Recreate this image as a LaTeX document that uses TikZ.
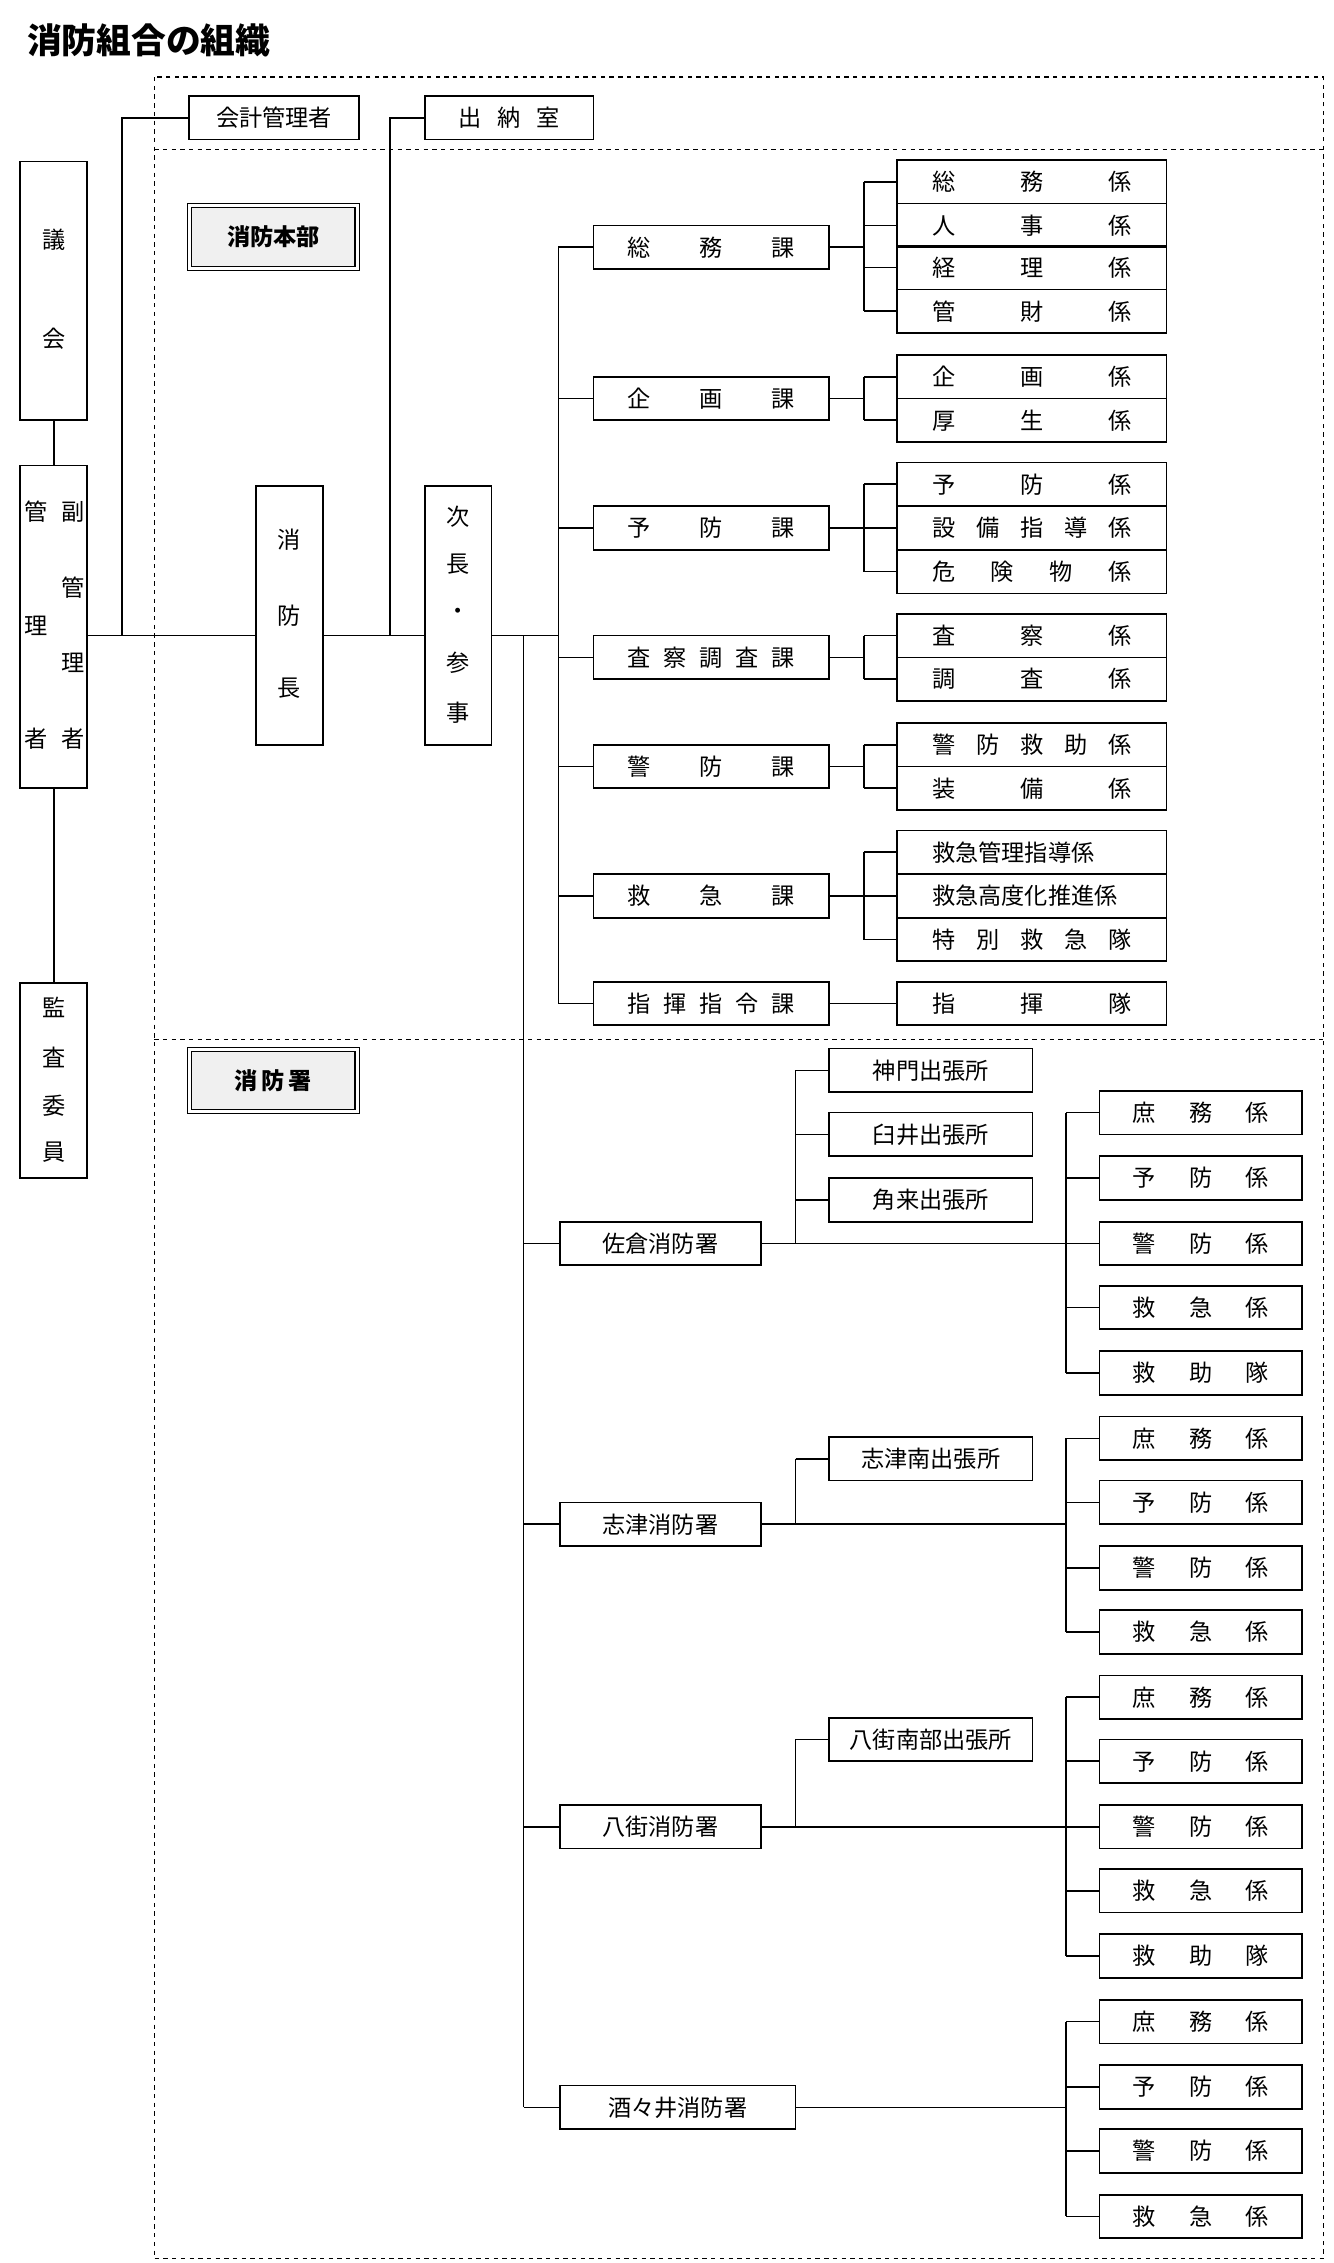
\documentclass[tikz,border=0pt]{standalone}
\usepackage{fontspec}
\setmainfont{Noto Sans CJK JP}
\begin{document}
\begin{tikzpicture}[x=1bp,y=-1bp,line width=1.2bp,
 box/.style={draw,rectangle,inner sep=0pt,font=\fontsize{16}{18}\selectfont},
 ch/.style={inner sep=0pt,font=\fontsize{16}{18}\selectfont},
 dbl/.style={draw,double,double distance=2bp,line width=0.8bp,fill=gray!12,inner sep=0pt,font=\bfseries\fontsize{16}{18}\selectfont},
 dsh/.style={dashed,line width=0.8bp}]
\newcommand\bx[6]{\node[box,minimum width={((#4)-(#2))*1bp},minimum height={((#5)-(#3))*1bp}] (#1) at ({((#2)+(#4))/2},{((#3)+(#5))/2}) {#6};}
\newcommand\ka[3]{\bx{#1}{408}{#2-15}{570}{#2+15}{\makebox[115bp][s]{#3}}}
\newcommand\kk[3]{\bx{#1}{617}{#2-15}{802}{#2+15}{\makebox[137bp][s]{#3}}}
\newcommand\sk[3]{\bx{#1}{756}{#2-15}{895}{#2+15}{\makebox[93bp][s]{#3}}}
\useasboundingbox (0,0) rectangle (917,1556);
\node[anchor=west,inner sep=0pt,font=\bfseries\fontsize{24}{26}\selectfont] (title) at (18,28) {消防組合の組織};
\draw[dsh] (106,53) rectangle (910,1553);
\draw[dsh] (106,103) -- (910,103);
\draw[dsh] (106,715) -- (910,715);
% top boxes
\bx{kaikei}{130}{66}{247}{96}{会計管理者}
\bx{suitou}{292}{66}{408}{96}{\makebox[70bp][s]{出\hfill 納\hfill 室}}
\node[dbl,minimum width=115bp,minimum height=43bp] (honbu) at (188,163) {消防本部};
\node[dbl,minimum width=115bp,minimum height=43bp] (sho) at (188,743) {消\,防\,署};
% vertical boxes
\bx{gikai}{14}{111}{60}{289}{}
\node[ch] (g1) at (37,165) {議}; \node[ch] (g2) at (37,233) {会};
\bx{kanri}{14}{320}{60}{542}{}
\node[ch] (m1) at (25,352) {管}; \node[ch] (m2) at (50,352) {副};
\node[ch] (m3) at (50,404) {管}; \node[ch] (m4) at (25,430) {理};
\node[ch] (m5) at (50,456) {理}; \node[ch] (m6) at (25,508) {者}; \node[ch] (m7) at (50,508) {者};
\bx{kansa}{14}{676}{60}{810}{}
\node[ch] (s1) at (37,693) {監}; \node[ch] (s2) at (37,727) {査};
\node[ch] (s3) at (37,760) {委}; \node[ch] (s4) at (37,792) {員};
\bx{chou}{176}{334}{222}{512}{}
\node[ch] (c1) at (199,371) {消}; \node[ch] (c2) at (199,423) {防}; \node[ch] (c3) at (199,473) {長};
\bx{jicho}{292}{334}{338}{512}{}
\node[ch] (j1) at (315,355) {次}; \node[ch] (j2) at (315,388) {長}; \node[ch] (j3) at (315,422) {・};
\node[ch] (j4) at (315,456) {参}; \node[ch] (j5) at (315,490) {事};
% main connectors
\coordinate (main) at (0,437);
\draw (gikai) -- (kanri); \draw (kanri) -- (kansa);
\draw (kanri.east|-main) -- (chou.west|-main);
\draw (84,437) |- (kaikei.west);
\draw (chou.east|-main) -- (jicho.west|-main);
\draw (268,437) |- (suitou.west);
\draw (jicho.east|-main) -- (384,437);
\draw (384,170) -- (384,690);
\draw (360,437) -- (360,1449);
% ka
\ka{ka1}{170}{総\hfill 務\hfill 課}
\ka{ka2}{274}{企\hfill 画\hfill 課}
\ka{ka3}{363}{予\hfill 防\hfill 課}
\ka{ka4}{452}{査\hfill 察\hfill 調\hfill 査\hfill 課}
\ka{ka5}{527}{警\hfill 防\hfill 課}
\ka{ka6}{616}{救\hfill 急\hfill 課}
\ka{ka7}{690}{指\hfill 揮\hfill 指\hfill 令\hfill 課}
\foreach \n in {1,...,7}{\draw (384,0|-ka\n.west) -- (ka\n.west);}
% kakari
\kk{k11}{125}{総\hfill 務\hfill 係}\kk{k12}{155}{人\hfill 事\hfill 係}
\kk{k13}{184}{経\hfill 理\hfill 係}\kk{k14}{214}{管\hfill 財\hfill 係}
\kk{k21}{259}{企\hfill 画\hfill 係}\kk{k22}{289}{厚\hfill 生\hfill 係}
\kk{k31}{333}{予\hfill 防\hfill 係}\kk{k32}{363}{設\hfill 備\hfill 指\hfill 導\hfill 係}\kk{k33}{393}{危\hfill 険\hfill 物\hfill 係}
\kk{k41}{437}{査\hfill 察\hfill 係}\kk{k42}{467}{調\hfill 査\hfill 係}
\kk{k51}{512}{警\hfill 防\hfill 救\hfill 助\hfill 係}\kk{k52}{542}{装\hfill 備\hfill 係}
\kk{k61}{586}{救急管理指導係}\kk{k62}{616}{救急高度化推進係}\kk{k63}{646}{特\hfill 別\hfill 救\hfill 急\hfill 隊}
\kk{k71}{690}{指\hfill 揮\hfill 隊}
\draw (ka1.east) -- (594,170); \draw (594,125) -- (594,214);
\foreach \k in {k11,k12,k13,k14}{\draw (594,0|-\k.west) -- (\k.west);}
\draw (ka2.east) -- (594,274); \draw (594,259) -- (594,289);
\foreach \k in {k21,k22}{\draw (594,0|-\k.west) -- (\k.west);}
\draw (ka3.east) -- (594,363); \draw (594,333) -- (594,393);
\foreach \k in {k31,k32,k33}{\draw (594,0|-\k.west) -- (\k.west);}
\draw (ka4.east) -- (594,452); \draw (594,437) -- (594,467);
\foreach \k in {k41,k42}{\draw (594,0|-\k.west) -- (\k.west);}
\draw (ka5.east) -- (594,527); \draw (594,512) -- (594,542);
\foreach \k in {k51,k52}{\draw (594,0|-\k.west) -- (\k.west);}
\draw (ka6.east) -- (594,616); \draw (594,586) -- (594,646);
\foreach \k in {k61,k62,k63}{\draw (594,0|-\k.west) -- (\k.west);}
\draw (ka7.east) -- (k71.west);
% stations
\bx{st1}{385}{840}{523}{870}{佐倉消防署}
\bx{st2}{385}{1033}{523}{1063}{志津消防署}
\bx{st3}{385}{1241}{523}{1271}{八街消防署}
\bx{st4}{385}{1434}{547}{1464}{酒々井消防署}
\foreach \n in {1,...,4}{\draw (360,0|-st\n.west) -- (st\n.west);}
\bx{d1}{570}{721}{710}{751}{神門出張所}
\bx{d2}{570}{765}{710}{795}{臼井出張所}
\bx{d3}{570}{810}{710}{840}{角来出張所}
\bx{d4}{570}{988}{710}{1018}{志津南出張所}
\bx{d5}{570}{1181}{710}{1211}{八街南部出張所}
\draw (547,736) -- (547,855);
\foreach \k in {d1,d2,d3}{\draw (547,0|-\k.west) -- (\k.west);}
\draw (547,1003) -- (547,1048); \draw (547,0|-d4.west) -- (d4.west);
\draw (547,1196) -- (547,1256); \draw (547,0|-d5.west) -- (d5.west);
% station kakari
\sk{a1}{765}{庶\hfill 務\hfill 係}\sk{a2}{810}{予\hfill 防\hfill 係}\sk{a3}{855}{警\hfill 防\hfill 係}\sk{a4}{899}{救\hfill 急\hfill 係}\sk{a5}{944}{救\hfill 助\hfill 隊}
\sk{b1}{989}{庶\hfill 務\hfill 係}\sk{b2}{1033}{予\hfill 防\hfill 係}\sk{b3}{1078}{警\hfill 防\hfill 係}\sk{b4}{1122}{救\hfill 急\hfill 係}
\sk{e1}{1167}{庶\hfill 務\hfill 係}\sk{e2}{1211}{予\hfill 防\hfill 係}\sk{e3}{1256}{警\hfill 防\hfill 係}\sk{e4}{1300}{救\hfill 急\hfill 係}\sk{e5}{1345}{救\hfill 助\hfill 隊}
\sk{f1}{1390}{庶\hfill 務\hfill 係}\sk{f2}{1435}{予\hfill 防\hfill 係}\sk{f3}{1479}{警\hfill 防\hfill 係}\sk{f4}{1524}{救\hfill 急\hfill 係}
\draw (st1.east) -- (733,855); \draw (733,765) -- (733,944);
\foreach \k in {a1,a2,a3,a4,a5}{\draw (733,0|-\k.west) -- (\k.west);}
\draw (st2.east) -- (733,1048); \draw (733,989) -- (733,1122);
\foreach \k in {b1,b2,b3,b4}{\draw (733,0|-\k.west) -- (\k.west);}
\draw (st3.east) -- (733,1256); \draw (733,1167) -- (733,1345);
\foreach \k in {e1,e2,e3,e4,e5}{\draw (733,0|-\k.west) -- (\k.west);}
\draw (st4.east) -- (733,1449); \draw (733,1390) -- (733,1524);
\foreach \k in {f1,f2,f3,f4}{\draw (733,0|-\k.west) -- (\k.west);}
\end{tikzpicture}
\end{document}
